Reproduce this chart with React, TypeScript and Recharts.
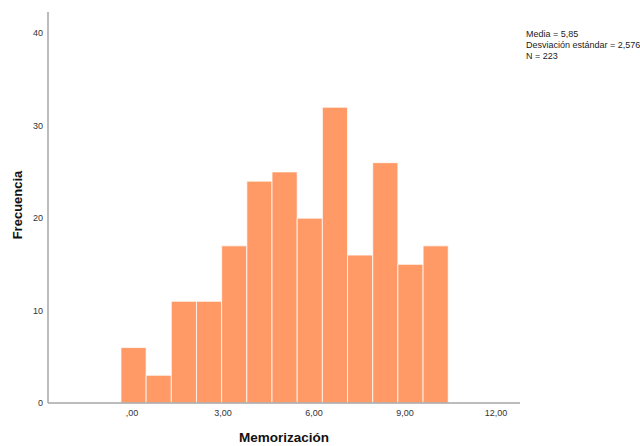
import * as React from 'react'
import { BarChart, Bar, XAxis, YAxis } from 'recharts'

// histogram bins (centre of each bin) and frequencies
const binCenters = [0.05, 0.88, 1.71, 2.54, 3.37, 4.2, 5.03, 5.86, 6.69, 7.52, 8.35, 9.18, 10.01]
const frequencies = [6, 3, 11, 11, 17, 24, 25, 20, 32, 16, 26, 15, 17]
const xTicks = [0, 3, 6, 9, 12]
const yTicks = [0, 10, 20, 30, 40]
const statLines = ['Media = 5,85', 'Desviación estándar = 2,576', 'N = 223']

const BIN_WIDTH = 0.831
const X_DOMAIN: [number, number] = [-2.77, 12.79]
const Y_DOMAIN: [number, number] = [0, 42.3]

const WIDTH = 640
const HEIGHT = 446
const MARGIN = { top: 12, right: 120, bottom: 0, left: 8 }
const Y_AXIS_WIDTH = 40
const PLOT_WIDTH = WIDTH - MARGIN.left - MARGIN.right - Y_AXIS_WIDTH
// a hair under the bin width, otherwise recharts shrinks bars to 90% of the band
const BAR_SIZE = (BIN_WIDTH * PLOT_WIDTH) / (X_DOMAIN[1] - X_DOMAIN[0]) - 0.05

const FONT = '"Liberation Sans", Arial, sans-serif'
const AXIS_COLOR = '#a6a6a6'
const BAR_COLOR = '#ff9966'

const data = binCenters.map((x, i) => ({ x, count: frequencies[i] }))

function formatX(v: number) {
  const s = v.toFixed(2).replace('.', ',')
  return s.startsWith('0,') ? s.slice(1) : s
}

export default function App() {
  return (
    <div
      style={{
        position: 'absolute',
        left: 0,
        top: 0,
        width: WIDTH,
        height: HEIGHT,
        background: '#fff',
        fontFamily: FONT,
      }}
    >
      <BarChart width={WIDTH} height={HEIGHT} data={data} margin={MARGIN}>
        <XAxis
          dataKey='x'
          type='number'
          domain={X_DOMAIN}
          ticks={xTicks}
          allowDataOverflow
          tickFormatter={formatX}
          tickLine={false}
          tickSize={5}
          tickMargin={2}
          height={43}
          stroke={AXIS_COLOR}
          strokeWidth={1.5}
          tick={{ fontSize: 9, fill: '#333', fontFamily: FONT }}
        />
        <YAxis
          type='number'
          domain={Y_DOMAIN}
          ticks={yTicks}
          allowDataOverflow
          tickLine={false}
          tickSize={3}
          tickMargin={2}
          width={Y_AXIS_WIDTH}
          stroke={AXIS_COLOR}
          strokeWidth={1.5}
          tick={{ fontSize: 9, fill: '#333', fontFamily: FONT }}
        />
        <Bar
          dataKey='count'
          fill={BAR_COLOR}
          stroke='#ffffff'
          strokeOpacity={0.75}
          strokeWidth={1}
          barSize={BAR_SIZE}
          isAnimationActive={false}
        />
      </BarChart>

      <div
        style={{
          position: 'absolute',
          left: 526,
          top: 29,
          fontSize: 9,
          lineHeight: '11px',
          color: '#222',
          whiteSpace: 'nowrap',
        }}
      >
        {statLines.map((line) => (
          <div key={line}>{line}</div>
        ))}
      </div>

      <div
        style={{
          position: 'absolute',
          left: 284,
          top: 437,
          transform: 'translate(-50%, -50%)',
          fontSize: 13.5,
          fontWeight: 700,
          color: '#111',
          whiteSpace: 'nowrap',
        }}
      >
        Memorización
      </div>

      <div
        style={{
          position: 'absolute',
          left: 17,
          top: 205,
          transform: 'translate(-50%, -50%) rotate(-90deg)',
          fontSize: 13,
          fontWeight: 700,
          color: '#111',
          whiteSpace: 'nowrap',
        }}
      >
        Frecuencia
      </div>
    </div>
  )
}
